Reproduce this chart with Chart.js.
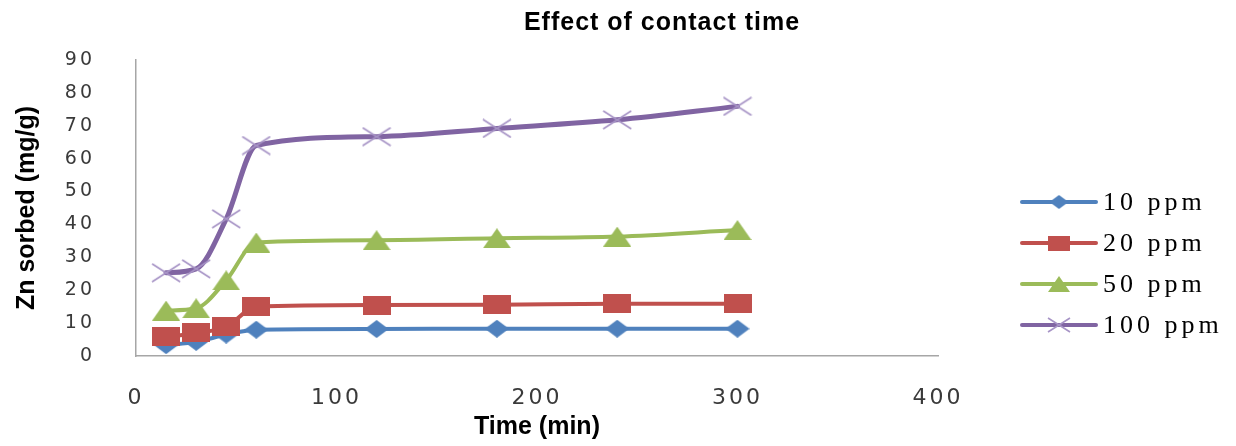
<!DOCTYPE html>
<html>
<head>
<meta charset="utf-8">
<script src="https://cdn.jsdelivr.net/npm/chart.js@4/dist/chart.umd.min.js"></script>
<style>
  html, body { margin: 0; padding: 0; background: #ffffff; }
  #wrap { width: 1236px; height: 446px; }
</style>
</head>
<body>
<div id="wrap"><canvas id="c" width="1236" height="446"></canvas></div>
<script>
// ---- data ----
const times = [15, 30, 45, 60, 120, 180, 240, 300];
const ppm10 = [3.3, 4.3, 6.5, 8.0, 8.2, 8.3, 8.3, 8.3];
const ppm20 = [5.8, 7.0, 8.9, 15.0, 15.5, 15.6, 15.9, 15.9];
const ppm50 = [13.8, 14.5, 23.0, 34.5, 35.2, 35.8, 36.3, 38.3];
const ppm100 = [25.3, 26.5, 41.7, 64.0, 66.7, 69.2, 71.8, 75.9];
const seriesNames = ['10 ppm', '20 ppm', '50 ppm', '100 ppm'];
const xTickValues = [0, 100, 200, 300, 400];
const yTickValues = [0, 10, 20, 30, 40, 50, 60, 70, 80, 90];

const colors = ['#4F81BD', '#C0504D', '#9BBB59', '#8064A2'];
const markerTypes = ['diamond', 'square', 'triangle', 'cross'];

function makeMarker(type, color, s) {
  const dims = {
    diamond: [24, 18], square: [28, 19], triangle: [28, 20], cross: [30, 20]
  }[type];
  const w = Math.round(dims[0] * s), h = Math.round(dims[1] * s);
  const c = document.createElement('canvas');
  c.width = w; c.height = h;
  const g = c.getContext('2d');
  g.fillStyle = color; g.strokeStyle = color;
  if (type === 'diamond') {
    g.beginPath(); g.moveTo(w / 2, 0); g.lineTo(w, h / 2); g.lineTo(w / 2, h); g.lineTo(0, h / 2); g.closePath(); g.fill();
  } else if (type === 'square') {
    g.fillRect(0, 0, w, h);
  } else if (type === 'triangle') {
    g.beginPath(); g.moveTo(w / 2, 0); g.lineTo(w, h); g.lineTo(0, h); g.closePath(); g.fill();
  } else {
    g.strokeStyle = '#A794C6'; g.lineWidth = 1.6;
    g.beginPath(); g.moveTo(1, 1); g.lineTo(w - 1, h - 1); g.moveTo(w - 1, 1); g.lineTo(1, h - 1); g.stroke();
  }
  return c;
}

const allSeries = [ppm10, ppm20, ppm50, ppm100];
const datasets = allSeries.map((vals, i) => ({
  label: seriesNames[i],
  data: times.map((t, k) => ({ x: t, y: vals[k] })),
  borderColor: colors[i],
  backgroundColor: colors[i],
  borderWidth: i === 3 ? 5 : 4,
  pointStyle: makeMarker(markerTypes[i], colors[i], 1),
  pointRadius: 8,
  pointHoverRadius: 8,
  cubicInterpolationMode: 'monotone',
  borderCapStyle: 'round',
  borderJoinStyle: 'round',
  clip: false,
  order: 3 - i
}));
const legendMarkers = markerTypes.map((t, i) => makeMarker(t, colors[i], 0.8));

const decor = {
  id: 'decor',
  beforeDraw(chart) { chart.ctx.letterSpacing = '0px'; },
  afterDatasetsDraw(chart) { chart.ctx.letterSpacing = '3px'; },
  afterDraw(chart) {
    const ctx = chart.ctx;
    ctx.save();
    // title
    ctx.letterSpacing = '1px';
    ctx.fillStyle = '#000000';
    ctx.font = 'bold 25px "Liberation Sans", Arial, sans-serif';
    ctx.textAlign = 'center';
    ctx.textBaseline = 'middle';
    ctx.fillText('Effect of contact time', 662, 23);
    // legend
    const rowY = [202, 243, 284, 325];
    ctx.letterSpacing = '4px';
    ctx.font = '26px "Liberation Serif", "Times New Roman", serif';
    ctx.textAlign = 'left';
    seriesNames.forEach((name, i) => {
      const y = rowY[i];
      ctx.strokeStyle = colors[i];
      ctx.lineWidth = 4;
      ctx.lineCap = 'round';
      ctx.beginPath(); ctx.moveTo(1022, y); ctx.lineTo(1096, y); ctx.stroke();
      const m = legendMarkers[i];
      ctx.drawImage(m, 1059 - m.width / 2, y - m.height / 2);
      ctx.fillStyle = '#000000';
      ctx.fillText(name, 1103, y + 1);
    });
    ctx.restore();
    ctx.letterSpacing = '0px';
  }
};

new Chart(document.getElementById('c'), {
  type: 'line',
  data: { datasets },
  plugins: [decor],
  options: {
    responsive: false,
    devicePixelRatio: 1,
    animation: false,
    events: [],
    layout: { padding: { top: 60, right: 298, left: 0, bottom: 0 } },
    plugins: { legend: { display: false }, title: { display: false }, tooltip: { enabled: false } },
    scales: {
      x: {
        type: 'linear',
        min: 0, max: 400,
        afterFit(s) { s.height = 90; },
        afterBuildTicks(s) { s.ticks = xTickValues.map(v => ({ value: v })); },
        grid: { display: false, drawTicks: false },
        border: { display: true, color: '#A6A6A6', width: 1.5 },
        ticks: { padding: 29, color: '#3a3a3a', font: { family: '"DejaVu Sans", Verdana, sans-serif', size: 22 }, z: 1, maxRotation: 0 },
        title: { display: true, text: 'Time (min)', color: '#000000', padding: { top: 0, bottom: 4 },
                 font: { family: '"Liberation Sans", Arial, sans-serif', size: 25, weight: 'bold' } }
      },
      y: {
        type: 'linear',
        min: 0, max: 90,
        afterFit(s) { s.width = 136; },
        afterBuildTicks(s) { s.ticks = yTickValues.map(v => ({ value: v })); },
        grid: { display: false, drawTicks: false },
        border: { display: true, color: '#A6A6A6', width: 1.5 },
        ticks: { padding: 41, color: '#3a3a3a', font: { family: '"DejaVu Sans", Verdana, sans-serif', size: 19 }, z: 1 },
        title: { display: true, text: 'Zn sorbed (mg/g)', color: '#000000', padding: { top: 12, bottom: 0 },
                 font: { family: '"Liberation Sans", Arial, sans-serif', size: 25, weight: 'bold' } }
      }
    }
  }
});
</script>
</body>
</html>
